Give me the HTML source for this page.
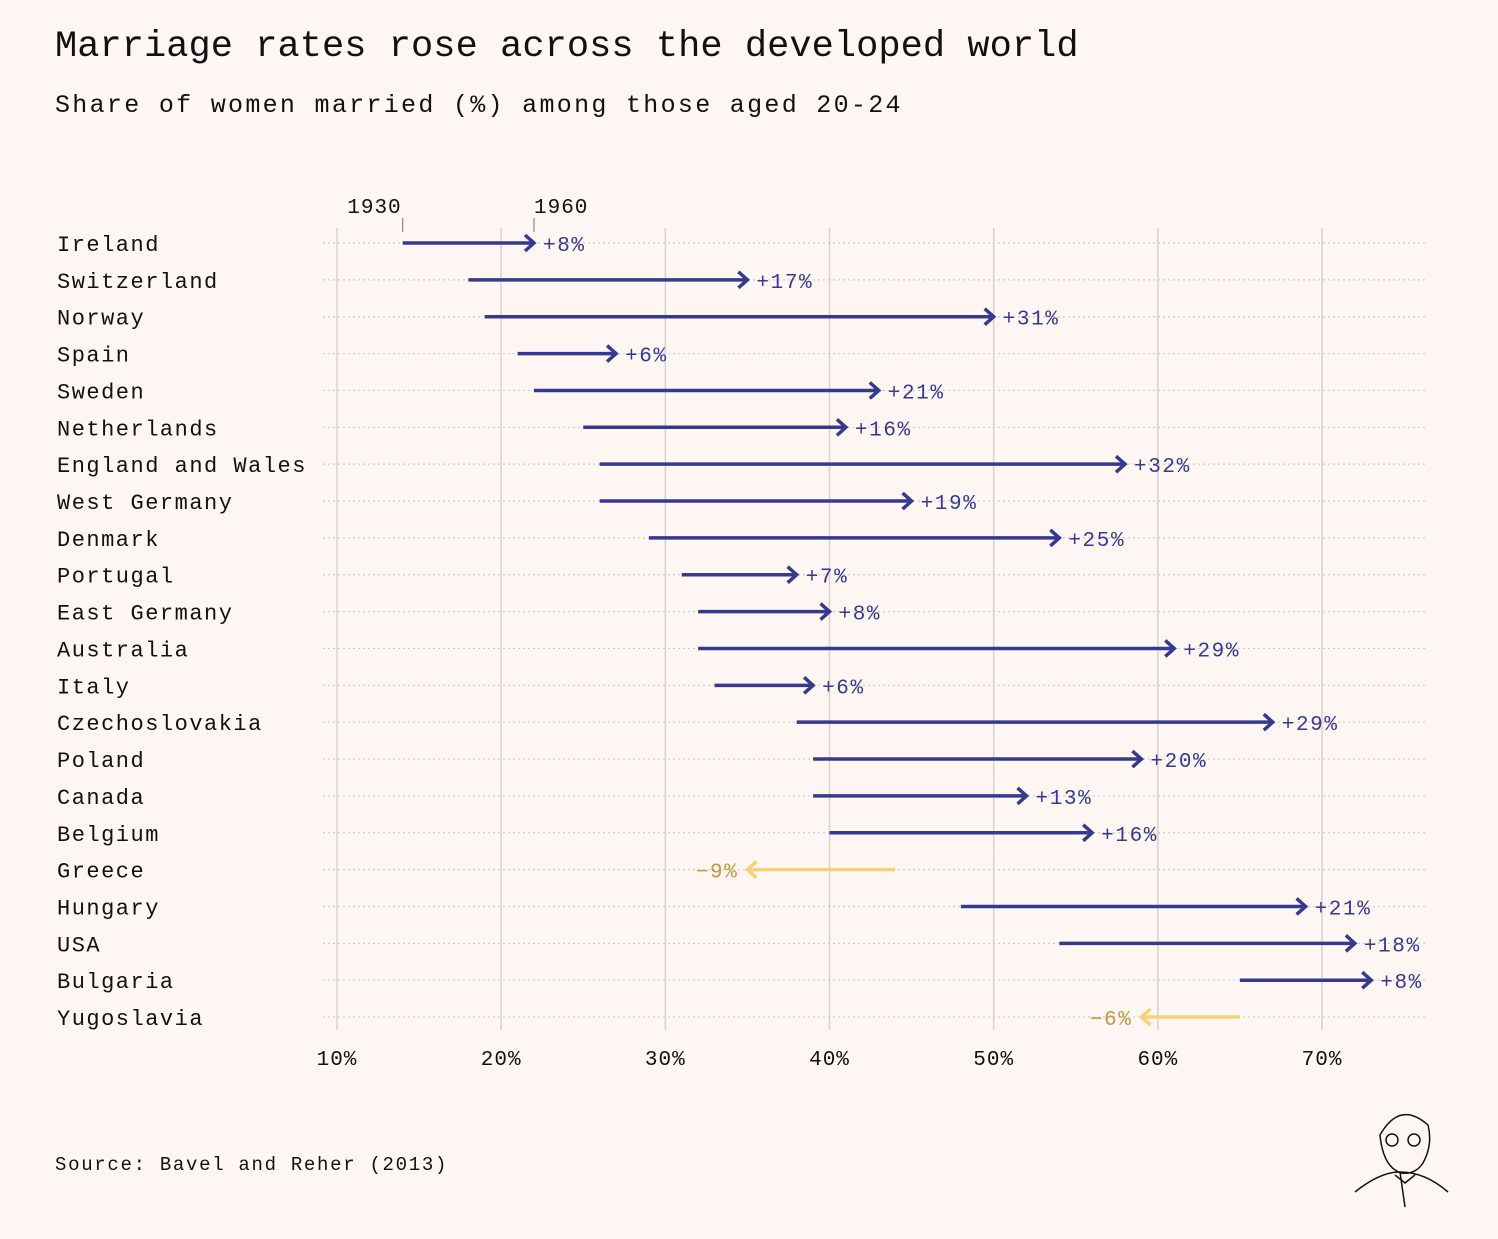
<!DOCTYPE html>
<html><head><meta charset="utf-8"><style>
body{margin:0;background:#fdf6f3;}
svg text{font-family:"Liberation Mono",monospace;}
</style></head><body>
<svg width="1498" height="1234" viewBox="0 0 1498 1234">
<rect width="1498" height="1234" fill="#fdf6f3"/>
<text x="55" y="56" font-size="37" letter-spacing="0.05" fill="#111">Marriage rates rose across the developed world</text>
<text x="55" y="112" font-size="25" letter-spacing="2.3" fill="#111">Share of women married (%) among those aged 20-24</text>
<text x="55" y="1170" font-size="19" letter-spacing="1.7" fill="#111">Source: Bavel and Reher (2013)</text>
<g id="grid"></g><g id="rows"></g><g id="marks"></g>
<g fill="none" stroke="#111" stroke-width="1.5">
<path d="M1380 1135 q20 -35 48 -10 q5 20 -5 38 q-8 12 -22 10 q-18 -6 -21 -38z"/>
<circle cx="1392" cy="1140" r="6"/><circle cx="1414" cy="1140" r="6"/>
<path d="M1355 1192 q25 -20 45 -20 q25 0 48 20 M1400 1172 l5 35 M1395 1175 l10 8 l10 -8"/>
</g>
</svg>
<script>
const countries=["Ireland","Switzerland","Norway","Spain","Sweden","Netherlands","England and Wales","West Germany","Denmark","Portugal","East Germany","Australia","Italy","Czechoslovakia","Poland","Canada","Belgium","Greece","Hungary","USA","Bulgaria","Yugoslavia"];
const v1930=[14,18,19,21,22,25,26,26,29,31,32,32,33,38,39,39,40,44,48,54,65,65];
const v1960=[22,35,50,27,43,41,58,45,54,38,40,61,39,67,59,52,56,35,69,72,73,59];
const ticks=[10,20,30,40,50,60,70];
const NS="http://www.w3.org/2000/svg";
const x=v=>337+(v-10)*16.417;
const y=i=>243+i*36.86;
function el(t,a,p){const e=document.createElementNS(NS,t);for(const k in a)e.setAttribute(k,a[k]);p.appendChild(e);return e;}
const grid=document.getElementById('grid'),rows=document.getElementById('rows'),marks=document.getElementById('marks');
ticks.forEach(t=>{
 const l=el('line',{x1:x(t),x2:x(t),y1:228,y2:1030,stroke:'#d9d2cf','stroke-width':1.5},grid);
 
 
 const tx=el('text',{x:x(t),y:1065,'font-size':21,'letter-spacing':1,'text-anchor':'middle',fill:'#111'},grid);
 tx.textContent=t+'%';
 
 
});
countries.forEach((c,i)=>{
 const yy=y(i);
 const d=el('line',{x1:323,x2:1427,y1:yy,y2:yy,stroke:'#ccc','stroke-width':1.2,'stroke-dasharray':'2 3'},rows);
 
 
 const t=el('text',{x:57,y:yy+8,'font-size':22,'letter-spacing':1.5,fill:'#111'},rows);
 t.textContent=c;
 
 
 const a=v1930[i],b=v1960[i],up=b>=a;
 const col=up?'#363a8f':'#f5d27a',tcol=up?'#363a8f':'#c09a3c';
 const xa=x(a),xb=x(b),dir=up?1:-1;
 const g=el('g',{},marks);
 
 
 el('line',{x1:xa,x2:xb-dir*2,y1:yy,y2:yy,stroke:col,'stroke-width':3.5},g);
 el('path',{d:`M${xb-dir*9} ${yy-8} L${xb} ${yy} L${xb-dir*9} ${yy+8}`,fill:'none',stroke:col,'stroke-width':3.5,'stroke-linejoin':'miter'},g);
 const diff=b-a;
 const lt=el('text',{x:xb+dir*9,y:yy+8,'font-size':21,'letter-spacing':1.6,'text-anchor':up?'start':'end',fill:tcol},g);
 lt.textContent=(diff>=0?'+':'\u2212')+Math.abs(diff)+'%';
});
[[14,'1930','end',-1],[22,'1960','start',0]].forEach(([v,s,anc,dx])=>{
 const l=el('line',{x1:x(v),x2:x(v),y1:218,y2:232,stroke:'#888','stroke-width':1.2},grid);
 
 
 const t=el('text',{x:x(v)+dx,y:213,'font-size':21,'letter-spacing':1,'text-anchor':anc,fill:'#111'},grid);
 t.textContent=s;
 
 
});
</script>
</body></html>
